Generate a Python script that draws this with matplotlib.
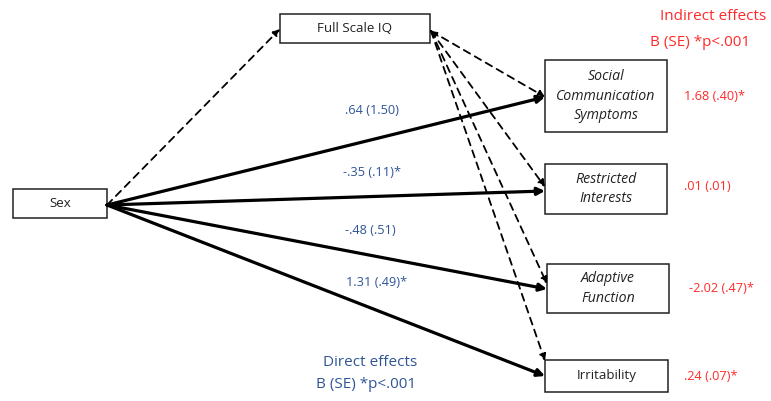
import matplotlib.pyplot as plt
from matplotlib.patches import Rectangle

plt.rcParams['font.family'] = ['Open Sans', 'DejaVu Sans']

# outcomes of the mediation model
outcomes = ['Social\nCommunication\nSymptoms', 'Restricted\nInterests', 'Adaptive\nFunction', 'Irritability']
outcome_italic = [True, True, True, False]

# direct effects of sex on each outcome: B, SE, significant
direct_b = [0.64, -0.35, -0.48, 1.31]
direct_se = [1.50, 0.11, 0.51, 0.49]
direct_sig = [False, True, False, True]

# indirect effects through Full Scale IQ
indirect_b = [1.68, 0.01, -2.02, 0.24]
indirect_se = [0.40, 0.01, 0.47, 0.07]
indirect_sig = [True, False, True, True]

BLUE = '#2F5597'
RED = '#FF2A2A'


def fmt(v):
    s = '%.2f' % v
    return s.replace('0.', '.', 1) if abs(v) < 1 else s


def effect_label(b, se, sig):
    return '%s (%s)%s' % (fmt(b), fmt(se), '*' if sig else '')


fig = plt.figure(figsize=(7.71, 4.01), dpi=100)
ax = fig.add_axes([0, 0, 1, 1])
ax.set_xlim(0, 771)
ax.set_ylim(401, 0)
ax.axis('off')

# boxes: x0, y0, x1, y1
sex_box = (13, 189, 107, 218)
iq_box = (280, 14, 430, 43)
out_boxes = [(545, 60, 667, 132), (545, 164, 667, 214), (547, 264, 669, 313), (545, 360, 668, 392)]


def draw_box(b, text, italic=False, size=9.6):
    x0, y0, x1, y1 = b
    ax.add_patch(Rectangle((x0, y0), x1 - x0, y1 - y0, fill=False, lw=1.1, ec='#222222'))
    ax.text((x0 + x1) / 2, (y0 + y1) / 2, text, ha='center', va='center', fontsize=size,
            style='italic' if italic else 'normal', linespacing=1.45, color='#222222')


draw_box(sex_box, 'Sex')
draw_box(iq_box, 'Full Scale IQ')
for b, name, it in zip(out_boxes, outcomes, outcome_italic):
    draw_box(b, name, it, 10.2 if it else 9.6)

sex_pt = (107, 205)
iq_pt = (431, 31)
direct_ends = [(545, 97), (545, 191), (547, 289), (545, 376)]
iq_ends = [(545, 97), (545, 187), (547, 284), (545, 361)]

# sex -> IQ
ax.annotate('', xy=(280, 29), xytext=sex_pt,
            arrowprops=dict(arrowstyle='-|>', lw=1.3, ls=(0, (4, 3)), color='black',
                            mutation_scale=10, shrinkA=0, shrinkB=0))
# IQ -> outcomes
for end in iq_ends:
    ax.annotate('', xy=end, xytext=iq_pt,
                arrowprops=dict(arrowstyle='-|>', lw=1.3, ls=(0, (4, 3)), color='black',
                                mutation_scale=10, shrinkA=0, shrinkB=0))
ax.annotate('', xy=iq_pt, xytext=(438, 36),
            arrowprops=dict(arrowstyle='-|>', lw=1.0, color='black',
                            mutation_scale=9, shrinkA=0, shrinkB=0))

# sex -> outcomes (direct)
for end in direct_ends:
    ax.annotate('', xy=end, xytext=sex_pt,
                arrowprops=dict(arrowstyle='-|>', lw=2.3, color='black',
                                mutation_scale=11, shrinkA=0, shrinkB=0))

direct_pos = [(372, 110), (372, 172), (370, 231), (377, 282)]
for (x, y), b, se, s in zip(direct_pos, direct_b, direct_se, direct_sig):
    ax.text(x, y, effect_label(b, se, s), ha='center', va='center', fontsize=9.2, color=BLUE)

indirect_pos = [(714, 96), (707, 186), (721, 289), (711, 377)]
for (x, y), b, se, s in zip(indirect_pos, indirect_b, indirect_se, indirect_sig):
    ax.text(x, y, effect_label(b, se, s), ha='center', va='center', fontsize=9.2, color=RED)

ax.text(370, 363, 'Direct effects', ha='center', va='center', fontsize=11, color=BLUE)
ax.text(366, 384, 'B (SE) *p<.001', ha='center', va='center', fontsize=11, color=BLUE)
ax.text(713, 17, 'Indirect effects', ha='center', va='center', fontsize=11, color=RED)
ax.text(700, 42, 'B (SE) *p<.001', ha='center', va='center', fontsize=11, color=RED)

fig.savefig('out.png', dpi=100)
